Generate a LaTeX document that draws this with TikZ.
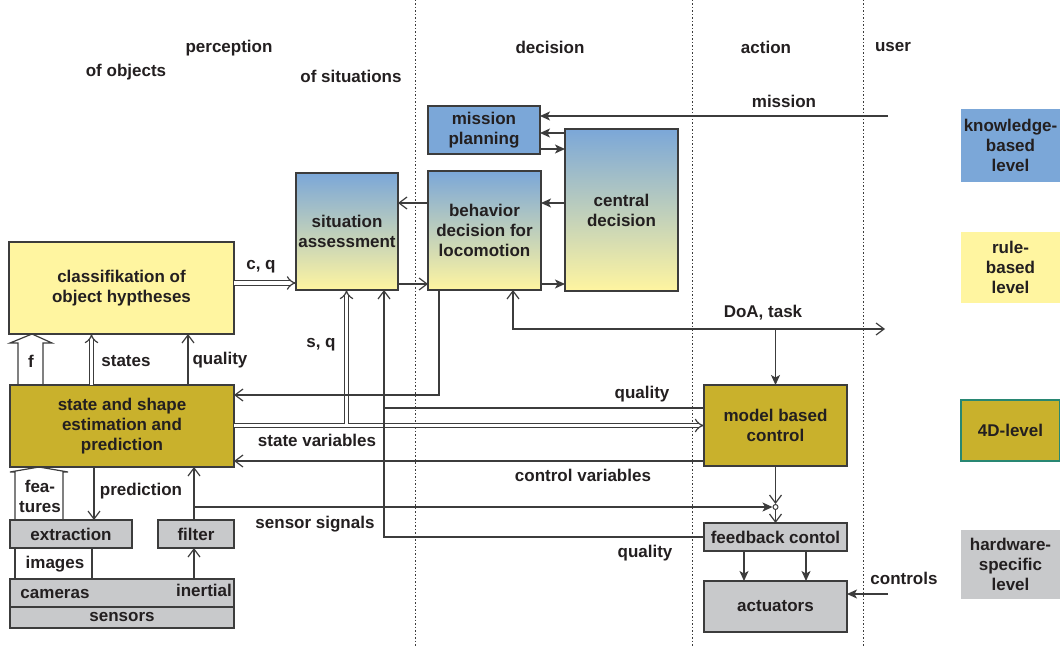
\documentclass[tikz,border=0pt]{standalone}
\usepackage{fontspec}
\setmainfont{Liberation Sans}
\usetikzlibrary{positioning,arrows.meta}

\definecolor{ink}{RGB}{35,31,32}
\definecolor{edge}{RGB}{60,60,60}
\definecolor{kblue}{RGB}{123,167,216}
\definecolor{ryellow}{RGB}{255,245,160}
\definecolor{olive}{RGB}{201,177,44}
\definecolor{hgray}{RGB}{200,201,203}
\definecolor{tealfd}{RGB}{40,135,115}

\begin{document}
\begin{tikzpicture}[x=1pt, y=-1pt, line width=1.2pt, draw=edge,
	every node/.style={font=\fontsize{17}{20}\selectfont\bfseries, text=ink},
	box/.style 2 args={draw=edge, line width=1.3pt, anchor=north west, align=center, inner sep=0pt, outer sep=0pt, minimum width=#1, minimum height=#2},
	level/.style 2 args={box={#1}{#2}, draw=none},
	grad/.style={top color=kblue, bottom color=ryellow},
	toopen/.style={-{Straight Barb[length=8pt,width=12pt]}},
	tofill/.style={-{Stealth[length=10pt,width=9pt,inset=2.5pt]}},
	twin/.style={double=white, double distance=3.5pt, -{Implies[length=7pt,width=14pt]}},
	hollow/.style={line join=miter},
	divider/.style={line width=1pt, dash pattern=on 1.5pt off 2pt}]
		\useasboundingbox (0,0) rectangle (1060,647);

		\draw[divider] (415,0) -- (415,647);
		\draw[divider] (692,0) -- (692,647);
		\draw[divider] (863,0) -- (863,647);

		\node (perc_label) at (229,48) {perception};
		\node (obj_label) at (126,72) {of objects};
		\node (sit_label) at (351,76) {of situations};
		\node (dec_label) at (550,47) {decision};
		\node (act_label) at (766,47) {action};
		\node (usr_label) at (893,47) {user};

		\node[box={112}{48}, fill=kblue] (mp) at (428,106) {mission\\planning};
		\node[box={113}{162}, grad] (cd) at (565,129) {central\\decision};
		\node[box={113}{119}, grad] (bd) at (428,171) {behavior\\decision for\\locomotion};
		\node[box={102}{117}, grad] (sa) at (296,173) {situation\\assessment};
		\node[box={225}{92}, fill=ryellow] (ch) at (9,242) {classifikation of\\object hyptheses};
		\node[box={224}{82}, fill=olive] (se) at (10,385) {state and shape\\estimation and\\prediction};
		\node[box={122}{28}, fill=hgray] (ex) at (10,520) {extraction};
		\node[box={76}{28}, fill=hgray, right=26pt of ex] (fi) {filter};
		\node[box={224}{28}, fill=hgray] (cam) at (10,579) {};
		\node[box={224}{21}, fill=hgray, below=0pt of cam] (sen) {sensors};
		\node (cam_label) at (55,594) {cameras};
		\node (ine_label) at (204,590) {inertial};
		\node[box={143}{81}, fill=olive] (mbc) at (704,385) {model based\\control};
		\node[box={143}{28}, fill=hgray, below=57pt of mbc] (fb) {feedback contol};
		\node[box={143}{51}, fill=hgray, below=30pt of fb] (act) {actuators};
		\node[circle, draw=edge, fill=white, line width=1pt, inner sep=0pt, minimum size=5pt] (sum) at (mbc.south |- 0,507) {};

		\node[level={99}{73}, fill=kblue] (kl) at (961,109) {knowledge-\\based\\level};
		\node[level={99}{71}, fill=ryellow] (rl) at (961,232) {rule-\\based\\level};
		\node[level={99}{61}, fill=olive, draw=tealfd] (fl) at (961,400) {4D-level};
		\node[level={99}{69}, fill=hgray] (hl) at (961,530) {hardware-\\specific\\level};

		\coordinate (usr) at (888,116);
		\coordinate (doa) at (885,329);
		\coordinate (ctl) at (888,594);
		\coordinate (sv) at (346.5,424);
		\coordinate (sig) at (194,507);
		\coordinate (qj) at (384,408);

		\draw[tofill] (usr) -- (usr -| mp.east);
		\node (mis_label) at (784,101) {mission};
		\draw[tofill] (cd.west |- 0,133) -- (mp.east |- 0,133);
		\draw[tofill] (mp.east |- 0,149) -- (cd.west |- 0,149);
		\draw[tofill] (cd.west |- 0,203) -- (bd.east |- 0,203);
		\draw[tofill] (bd.east |- 0,284) -- (cd.west |- 0,284);
		\draw[toopen] (bd.west |- 0,203) -- (sa.east |- 0,203);
		\draw[toopen] (sa.east |- 0,284) -- (bd.west |- 0,284);
		\draw[twin] (ch.east |- 0,283) -- (sa.west |- 0,283);
		\node (cq_label) at (261,267) {c, q};

		\draw[hollow] ([xshift=8]se.north west) -- ++(0,-42) -- ++(-8,0) -- ([xshift=23]ch.south west) -- ++(20,9) -- ++(-9,0) -- ([xshift=33]se.north west);
		\node (f_label) at (31,361) {f};
		\draw[twin] (se.north -| 91.5,0) -- (ch.south -| 91.5,0);
		\node (st_label) at (126,361) {states};
		\draw[toopen] (se.north -| 188,0) -- (ch.south -| 188,0);
		\node (q1_label) at (220,360) {quality};

		\draw[hollow] ([xshift=5]ex.north west) -- ++(0,-48) -- ++(-5,0) -- ([xshift=29]se.south west) -- ++(29,5) -- ++(-5,0) -- ([xshift=53]ex.north west);
		\node[align=center] (ft_label) at (40,496) {fea-\\tures};
		\draw[toopen] (se.south -| 94,0) -- (ex.north -| 94,0);
		\node (pr_label) at (141,491) {prediction};
		\draw[toopen] (fi.north -| 194,0) -- (se.south -| 194,0);
		\draw[toopen] (cam.north -| 194,0) -- (fi.south -| 194,0);
		\draw ([xshift=5]cam.north west) -- ([xshift=5]ex.south west);
		\draw ([xshift=82]cam.north west) -- ([xshift=82]ex.south west);
		\node (im_label) at (55,564) {images};
		\draw[tofill] (sig) -- (sum.west);
		\node (ss_label) at (315,524) {sensor signals};

		\draw[twin] (se.east |- 0,425.5) -- (mbc.west |- 0,425.5);
		\draw[twin] (sv) -- (sa.south -| sv);
		\node (sq_label) at (321,345) {s, q};
		\node (sv_label) at (317,440) {state variables};
		\draw[toopen] (bd.south -| 439,0) |- (se.east |- 0,395);
		\draw[toopen] (fb.west) -| (sa.south -| qj);
		\node (q3_label) at (645,553) {quality};
		\draw (mbc.west |- qj) -- (qj);
		\node (q2_label) at (642,394) {quality};
		\draw[toopen] (mbc.west |- 0,461) -- (se.east |- 0,461);
		\node (cv_label) at (583,475) {control variables};

		\draw[{Straight Barb[length=8pt,width=12pt]}-{Straight Barb[length=8pt,width=12pt]}] (bd.south -| 513,0) |- (doa);
		\node (doa_label) at (763,313) {DoA, task};
		\draw[tofill] (mbc.north |- doa) -- (mbc.north);
		\draw[toopen] (mbc.south) -- (sum.north);
		\draw[toopen] (sum.south) -- (fb.north);
		\draw[tofill] ([xshift=-31.5]fb.south) -- ([xshift=-31.5]act.north);
		\draw[tofill] ([xshift=30.5]fb.south) -- ([xshift=30.5]act.north);
		\draw[tofill] (ctl) -- (ctl -| act.east);
		\node (ctl_label) at (904,578) {controls};
	\end{tikzpicture}
\end{document}
